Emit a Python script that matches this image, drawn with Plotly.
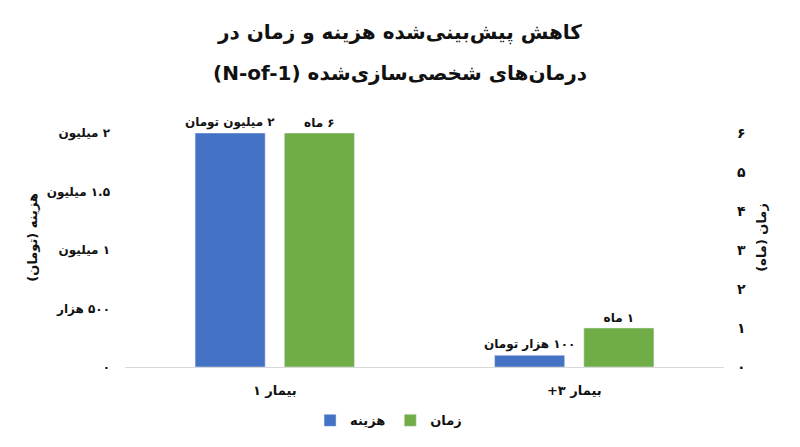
"""Grouped bar chart: predicted cost and time reduction in N-of-1 treatments."""

import plotly.graph_objects as go

# Data
categories = ["بیمار ۱", "بیمار ۳+"]
cost_values = [2000000, 100000]
time_values = [6, 1]
cost_labels = ["۲ میلیون تومان", "۱۰۰ هزار تومان"]
time_labels = ["۶ ماه", "۱ ماه"]
cost_ticks = [0, 500000, 1000000, 1500000, 2000000]
cost_tick_labels = ["۰", "۵۰۰ هزار", "۱ میلیون", "۱.۵ میلیون", "۲ میلیون"]
time_ticks = [0, 1, 2, 3, 4, 5, 6]
time_tick_labels = ["۰", "۱", "۲", "۳", "۴", "۵", "۶"]
series_names = ["هزینه", "زمان"]
title_lines = ["کاهش پیش‌بینی‌شده هزینه و زمان در", "درمان‌های شخصی‌سازی‌شده (N-of-1)"]
cost_axis_title = "هزینه (تومان)"
time_axis_title = "زمان (ماه)"

BLUE = "#4472C4"
GREEN = "#70AD47"
FONT = "DejaVu Sans"
INK = "#111111"


def rtl(s):
    # right-to-left embedding so numbers and brackets sit where Persian expects
    return "\u202b" + s + "\u202c"


def bold(size):
    return dict(size=size, family=FONT, weight="bold", color=INK)


x_cats = [rtl(c) for c in categories]

fig = go.Figure()

fig.add_trace(
    go.Bar(
        x=x_cats,
        y=cost_values,
        name=series_names[0],
        marker=dict(color=BLUE),
        width=0.234,
        offset=-0.266,
        text=[rtl(t) for t in cost_labels],
        textposition="outside",
        constraintext="none",
        textfont=bold(12),
        cliponaxis=False,
        yaxis="y",
    )
)
fig.add_trace(
    go.Bar(
        x=x_cats,
        y=time_values,
        name=series_names[1],
        marker=dict(color=GREEN),
        width=0.234,
        offset=0.032,
        text=[rtl(t) for t in time_labels],
        textposition="outside",
        constraintext="none",
        textfont=bold(12),
        cliponaxis=False,
        yaxis="y2",
    )
)

# Titles as annotations so the line spacing matches
common = dict(xref="paper", yref="paper", showarrow=False, xanchor="center", yanchor="middle")
annotations = [
    dict(common, text=rtl(title_lines[0]), x=0.459, y=1.43, font=bold(20)),
    dict(common, text=rtl(title_lines[1]), x=0.459, y=1.258, font=bold(20)),
    dict(common, text=rtl(cost_axis_title), x=-0.1536, y=0.557, textangle=-90, font=bold(13)),
    dict(common, text=rtl(time_axis_title), x=1.0634, y=0.557, textangle=-90, font=bold(13)),
]

# page body has an 8px margin, so the figure is sized to fit inside the window
fig.update_layout(
    width=792,
    height=439,
    margin=dict(l=117, r=76, t=125, b=77),
    paper_bgcolor="white",
    plot_bgcolor="white",
    barmode="group",
    font=dict(family=FONT, color=INK, size=13),
    annotations=annotations,
    xaxis=dict(
        showgrid=False,
        showline=True,
        linecolor="#d9d9d9",
        linewidth=1,
        ticks="",
        automargin=False,
        ticklabelstandoff=11,
        tickfont=bold(13),
    ),
    yaxis=dict(
        range=[0, 2000000],
        tickvals=cost_ticks,
        ticktext=[rtl(t) for t in cost_tick_labels],
        showgrid=False,
        zeroline=False,
        showline=False,
        automargin=False,
        ticklabelstandoff=14,
        tickfont=bold(12),
    ),
    yaxis2=dict(
        range=[0, 6],
        tickvals=time_ticks,
        ticktext=[rtl(t) for t in time_tick_labels],
        overlaying="y",
        side="right",
        showgrid=False,
        zeroline=False,
        showline=False,
        automargin=False,
        ticklabelstandoff=12,
        tickfont=bold(14),
    ),
    showlegend=True,
    legend=dict(
        orientation="h",
        x=0.440,
        xanchor="center",
        y=-0.228,
        yanchor="middle",
        font=bold(13),
        itemwidth=30,
    ),
)

fig.write_html("out.html")
